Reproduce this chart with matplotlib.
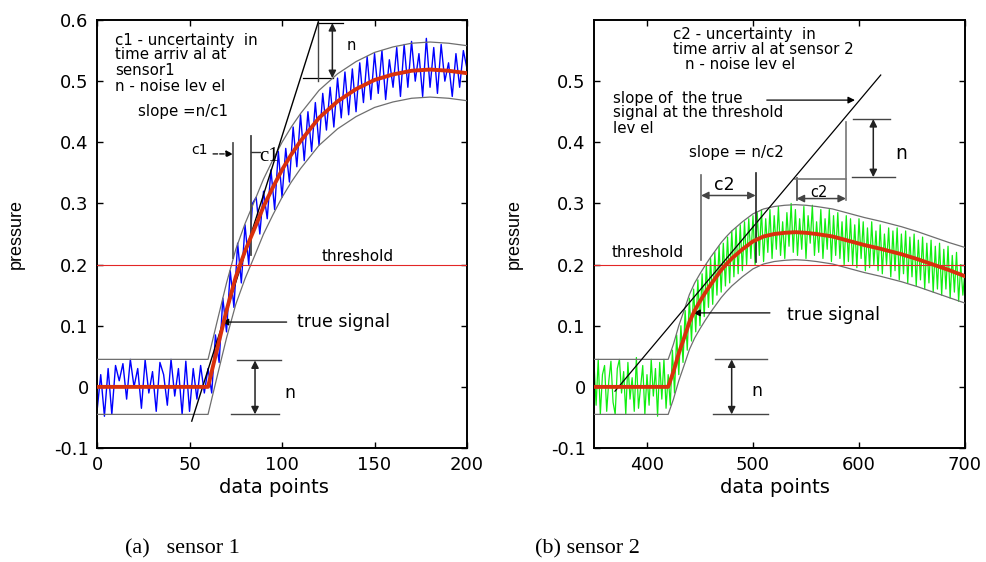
import numpy as np
import matplotlib.pyplot as plt

# ---- sensor 1 (left panel) ----
x1 = np.arange(0, 201, 2)
sensor1 = [-0.04, 0.02, -0.048, 0.03, -0.045, 0.035, 0.01, 0.038, -0.02, 0.045,
           0.0, 0.03, -0.035, 0.044, -0.01, 0.025, -0.04, 0.04, 0.02, -0.03,
           0.045, -0.015, 0.03, -0.045, 0.042, -0.04, 0.03, -0.02, 0.035, -0.01,
           0.03, -0.01, 0.085, 0.04, 0.145, 0.09, 0.19, 0.13, 0.235, 0.17,
           0.265, 0.2, 0.3, 0.31, 0.25, 0.32, 0.275, 0.355, 0.29, 0.385,
           0.31, 0.39, 0.335, 0.425, 0.36, 0.445, 0.37, 0.45, 0.385, 0.465,
           0.395, 0.48, 0.42, 0.49, 0.425, 0.505, 0.44, 0.515, 0.445, 0.52,
           0.45, 0.53, 0.465, 0.54, 0.47, 0.545, 0.48, 0.55, 0.47, 0.535,
           0.49, 0.555, 0.475, 0.56, 0.49, 0.565, 0.5, 0.545, 0.475, 0.57,
           0.49, 0.555, 0.48, 0.56, 0.5, 0.53, 0.475, 0.545, 0.49, 0.55, 0.52]
true1_x = [0, 60, 65, 70, 75, 80, 85, 90, 95, 100, 105, 110, 120, 130, 140, 150, 160, 170, 180, 190, 200]
true1 = [0, 0, 0.063, 0.125, 0.18, 0.222, 0.258, 0.295, 0.326, 0.355, 0.38, 0.402,
         0.44, 0.467, 0.487, 0.502, 0.511, 0.517, 0.519, 0.517, 0.513]
upper1 = [0.045, 0.045, 0.108, 0.17, 0.225, 0.267, 0.303, 0.34, 0.371, 0.4, 0.425, 0.447,
          0.485, 0.512, 0.532, 0.547, 0.556, 0.562, 0.564, 0.562, 0.558]
lower1 = [-0.045, -0.045, 0.018, 0.08, 0.135, 0.177, 0.213, 0.25, 0.281, 0.31, 0.335, 0.357,
          0.395, 0.422, 0.442, 0.457, 0.466, 0.472, 0.474, 0.472, 0.468]
slope1_x = [51.2, 119.6]
slope1_y = [-0.056, 0.597]

# ---- sensor 2 (right panel) ----
x2 = np.arange(350, 701, 2)
sensor2 = [0.04, -0.03, 0.045, -0.045, 0.02, 0.035, -0.04, 0.01, 0.042, -0.025,
           -0.045, 0.03, 0.045, -0.01, 0.025, -0.045, 0.04, -0.02, 0.015, -0.04,
           0.048, -0.035, 0.0, 0.035, -0.045, 0.02, -0.03, 0.045, -0.015, 0.03,
           -0.048, 0.04, -0.02, 0.045, -0.035,
           0.02, -0.03, 0.06, -0.01, 0.085, 0.02, 0.1, 0.04, 0.125, 0.06,
           0.145, 0.075, 0.16, 0.09, 0.175, 0.1, 0.185, 0.115, 0.2, 0.13,
           0.21, 0.135, 0.22, 0.15, 0.23, 0.155, 0.235, 0.165, 0.245, 0.17,
           0.255, 0.18, 0.26, 0.185, 0.265, 0.19, 0.27, 0.2, 0.275, 0.21,
           0.28, 0.2, 0.285, 0.215, 0.29, 0.205, 0.275, 0.22, 0.29, 0.21,
           0.28, 0.225, 0.295, 0.215, 0.27, 0.21, 0.285, 0.23, 0.3, 0.22,
           0.29, 0.215, 0.275, 0.225, 0.295, 0.21, 0.28, 0.235, 0.297, 0.215,
           0.27, 0.22, 0.29, 0.21, 0.275, 0.225, 0.29, 0.205, 0.28, 0.215,
           0.285, 0.21, 0.27, 0.2, 0.28, 0.205, 0.275, 0.2, 0.265, 0.195,
           0.275, 0.21, 0.27, 0.19, 0.26, 0.195, 0.27, 0.2, 0.255, 0.19,
           0.265, 0.185, 0.25, 0.2, 0.26, 0.18, 0.255, 0.19, 0.26, 0.175,
           0.25, 0.185, 0.255, 0.17, 0.245, 0.18, 0.25, 0.165, 0.24, 0.175,
           0.245, 0.16, 0.235, 0.17, 0.24, 0.155, 0.23, 0.16, 0.235, 0.15,
           0.225, 0.16, 0.23, 0.145, 0.215, 0.155, 0.22, 0.14, 0.2, 0.15, 0.19]
true2_x = [350, 420, 425, 430, 435, 440, 445, 450, 455, 460, 465, 470, 475, 480, 490, 500,
           510, 520, 530, 540, 550, 560, 575, 590, 605, 620, 640, 655, 670, 685, 700]
true2 = [0, 0, 0.025, 0.055, 0.08, 0.106, 0.125, 0.14, 0.154, 0.167, 0.179, 0.191, 0.201,
         0.21, 0.225, 0.238, 0.246, 0.25, 0.252, 0.253, 0.252, 0.25, 0.246, 0.239, 0.232,
         0.226, 0.217, 0.209, 0.2, 0.191, 0.181]
upper2 = [0.045, 0.045, 0.07, 0.1, 0.125, 0.151, 0.17, 0.185, 0.199, 0.212, 0.224, 0.236,
          0.246, 0.255, 0.27, 0.283, 0.291, 0.295, 0.297, 0.298, 0.297, 0.295, 0.291, 0.284,
          0.277, 0.271, 0.262, 0.254, 0.245, 0.236, 0.228]
lower2 = [-0.045, -0.045, -0.02, 0.01, 0.035, 0.061, 0.08, 0.095, 0.109, 0.122, 0.134, 0.146,
          0.156, 0.165, 0.18, 0.193, 0.201, 0.205, 0.207, 0.208, 0.207, 0.205, 0.201, 0.194,
          0.187, 0.181, 0.172, 0.164, 0.155, 0.146, 0.137]
slope2_x = [369.8, 620.5]
slope2_y = [-0.007, 0.51]

threshold = 0.2
yticks1 = [-0.1, 0, 0.1, 0.2, 0.3, 0.4, 0.5, 0.6]
ylabels1 = ['-0.1', '0', '0.1', '0.2', '0.3', '0.4', '0.5', '0.6']
yticks2 = [-0.1, 0, 0.1, 0.2, 0.3, 0.4, 0.5]
ylabels2 = ['-0.1', '0', '0.1', '0.2', '0.3', '0.4', '0.5']
xticks1 = [0, 50, 100, 150, 200]
xticks2 = [400, 500, 600, 700]

RED = '#d9300c'
GREY = '#6e6e6e'


def style(ax, xlim, xticks, yticks, ylabels, ylab_x, xlab_x):
    ax.set_xlim(xlim)
    ax.set_ylim(-0.1, 0.6)
    ax.set_xticks(xticks)
    ax.set_yticks(yticks)
    ax.set_yticklabels(ylabels)
    ax.tick_params(direction='in', top=True, right=True, length=4, width=1,
                   labelsize=13, pad=6)
    for s in ax.spines.values():
        s.set_linewidth(1.4)
    ax.set_xlabel('data points', fontsize=14)
    ax.xaxis.set_label_coords(xlab_x, -0.07)
    ax.set_ylabel('pressure', family='Liberation Sans', fontsize=13)
    ax.yaxis.set_label_coords(ylab_x, 0.5)


def darrow(ax, p1, p2, color='#222222'):
    ax.annotate('', xy=p1, xytext=p2,
                arrowprops=dict(arrowstyle='<|-|>', color=color, lw=1.1,
                                mutation_scale=11, shrinkA=0, shrinkB=0))


def arrow(ax, tip, tail, color='k', ls='-'):
    ax.annotate('', xy=tip, xytext=tail,
                arrowprops=dict(arrowstyle='-|>', color=color, lw=0.9, ls=ls,
                                mutation_scale=10, shrinkA=0, shrinkB=0))


fig = plt.figure(figsize=(9.87, 5.62), dpi=100)
ax1 = fig.add_axes([0.0983, 0.2028, 0.3749, 0.7616])
ax2 = fig.add_axes([0.6018, 0.2028, 0.3759, 0.7616])

# ---- left panel ----
ax1.plot(x1, sensor1, color='#0000ff', lw=1.0, zorder=2)
ax1.plot(true1_x, upper1, color=GREY, lw=0.9, zorder=3)
ax1.plot(true1_x, lower1, color=GREY, lw=0.9, zorder=3)
ax1.axhline(threshold, color='#e32626', lw=0.8, zorder=3)
ax1.plot(slope1_x, slope1_y, color='k', lw=1.0, zorder=4)
ax1.plot(true1_x, true1, color=RED, lw=2.8, zorder=5)

tk = dict(fontsize=10.8, va='center', ha='left')
ax1.text(9.7, 0.567, 'c1 - uncertainty  in', **tk)
ax1.text(9.7, 0.543, 'time arriv al at', **tk)
ax1.text(9.7, 0.517, 'sensor1', **tk)
ax1.text(9.7, 0.492, 'n - noise lev el', **tk)
ax1.text(22.3, 0.451, 'slope =n/c1', **tk)
ax1.text(121.4, 0.214, 'threshold', fontsize=11, va='center')
ax1.text(108, 0.106, 'true signal', fontsize=12.5, va='center')
arrow(ax1, (67.4, 0.106), (102.5, 0.106))

# c1 markers
ax1.plot([73.7, 73.7], [0.211, 0.399], color='#555555', lw=1.3, zorder=4)
ax1.plot([83.1, 83.1], [0.216, 0.41], color='#444444', lw=1.3, zorder=4)
ax1.text(51.2, 0.388, 'c1', fontsize=10, va='center')
arrow(ax1, (73.5, 0.381), (62.7, 0.381), ls='--')
ax1.text(87.5, 0.377, 'c1', family='Liberation Serif', fontsize=15, va='center')
ax1.plot([83.1, 88], [0.384, 0.384], color='#333333', lw=1.0, zorder=4)

# top n marker
ax1.plot([111.5, 127.7], [0.505, 0.505], color='k', lw=0.9)
ax1.plot([119.6, 133], [0.595, 0.595], color='k', lw=0.9)
ax1.plot([119.6, 119.6], [0.5, 0.597], color='#444444', lw=1.0)
darrow(ax1, (127.2, 0.505), (127.2, 0.595))
ax1.text(135, 0.559, 'n', fontsize=10.5, va='center')

# bottom n marker
ax1.plot([75.5, 99.5], [0.0433, 0.0433], color='#444444', lw=1.0)
ax1.plot([72.4, 98.2], [-0.0449, -0.0449], color='#444444', lw=1.0)
darrow(ax1, (85.4, -0.0449), (85.4, 0.0433))
ax1.text(101.2, -0.0095, 'n', fontsize=12.5, va='center')

style(ax1, (0, 200), xticks1, yticks1, ylabels1, -0.195, 0.478)

# ---- right panel ----
ax2.plot(x2, sensor2, color='#10ee10', lw=0.9, zorder=2)
ax2.plot(true2_x, upper2, color=GREY, lw=0.9, zorder=3)
ax2.plot(true2_x, lower2, color=GREY, lw=0.9, zorder=3)
ax2.axhline(threshold, color='#e32626', lw=0.8, zorder=3)
ax2.plot(slope2_x, slope2_y, color='k', lw=0.9, zorder=4)
ax2.plot(true2_x, true2, color=RED, lw=2.8, zorder=5)

ax2.text(424.2, 0.577, 'c2 - uncertainty  in', **tk)
ax2.text(424.2, 0.552, 'time arriv al at sensor 2', **tk)
ax2.text(435.8, 0.528, 'n - noise lev el', **tk)
ax2.text(368.2, 0.472, 'slope of  the true', **tk)
ax2.text(368.2, 0.448, 'signal at the threshold', **tk)
ax2.text(368.2, 0.423, 'lev el', **tk)
arrow(ax2, (596.2, 0.469), (513, 0.469))
ax2.text(439.9, 0.384, 'slope = n/c2', **tk)
ax2.text(366.7, 0.219, 'threshold', fontsize=11, va='center')
ax2.text(531.8, 0.118, 'true signal', fontsize=12.5, va='center')
arrow(ax2, (443.7, 0.121), (516, 0.121))

# first c2 marker
ax2.plot([451, 451], [0.208, 0.347], color='#666666', lw=1.2, zorder=4)
ax2.plot([502.5, 502.5], [0.205, 0.35], color='#222222', lw=1.2, zorder=4)
darrow(ax2, (451, 0.313), (502.5, 0.313), color='#444444')
ax2.text(463.2, 0.33, 'c2', fontsize=12.5, va='center')

# second c2 marker
ax2.plot([541.2, 541.2], [0.306, 0.341], color='#444444', lw=1.2)
ax2.plot([539.6, 587.7], [0.34, 0.34], color='#777777', lw=1.2)
ax2.plot([587.7, 587.7], [0.306, 0.434], color='#777777', lw=1.2)
darrow(ax2, (541.2, 0.308), (587.7, 0.308), color='#444444')
ax2.text(553.8, 0.318, 'c2', fontsize=10.5, va='center')

# n marker upper right
ax2.plot([594.3, 629.3], [0.438, 0.438], color='#444444', lw=1.0)
ax2.plot([593, 634], [0.343, 0.343], color='#444444', lw=1.0)
darrow(ax2, (613.5, 0.343), (613.5, 0.438))
ax2.text(634, 0.382, 'n', fontsize=13.5, va='center')

# bottom n marker
ax2.plot([464.2, 512.9], [0.0449, 0.0449], color='#555555', lw=1.0)
ax2.plot([462, 514.4], [-0.045, -0.045], color='#444444', lw=1.0)
darrow(ax2, (479.9, -0.045), (479.9, 0.0449))
ax2.text(498.8, -0.007, 'n', fontsize=12.5, va='center')

style(ax2, (350, 700), xticks2, yticks2, ylabels2, -0.191, 0.489)

# captions
fig.text(0.1266, 0.023, '(a)   sensor 1', family='Liberation Serif', fontsize=16, va='center')
fig.text(0.542, 0.023, '(b) sensor 2', family='Liberation Serif', fontsize=16, va='center')

fig.savefig('out.png', dpi=100)
